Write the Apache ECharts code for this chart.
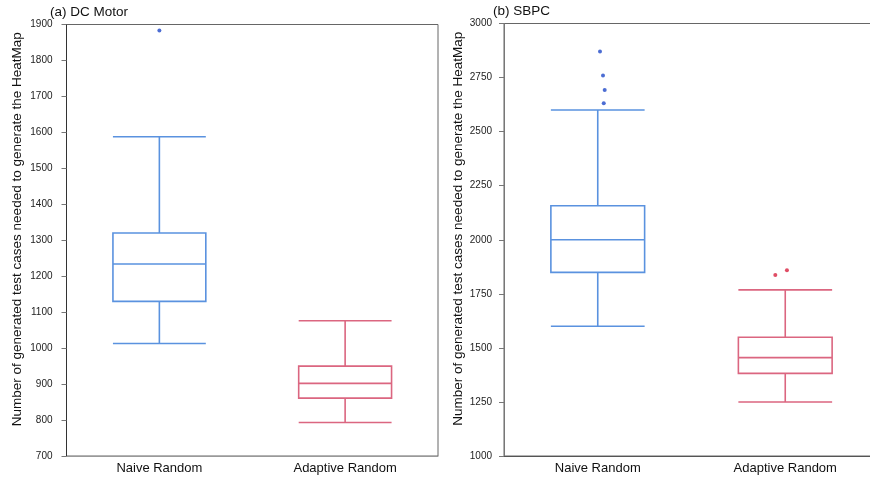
<!DOCTYPE html>
<html>
<head>
<meta charset="utf-8">
<script src="https://cdn.jsdelivr.net/npm/echarts@6/dist/echarts.min.js"></script>
<style>
  html, body { margin: 0; padding: 0; background: #fff; overflow: hidden; }
  #wrap { width: 870px; height: 480px; overflow: hidden; }
  /* canvas runs a little past the right edge so the second frame is cut off there */
  #chart { width: 880px; height: 480px; }
</style>
</head>
<body>
<div id="wrap"><div id="chart"></div></div>
<script>
// Categories shared by both panels
const categories = ['Naive Random', 'Adaptive Random'];

// Box statistics: [lower whisker, Q1, median, Q3, upper whisker]
const dcMotorBoxes = [
  [1013, 1130, 1234, 1320, 1588],
  [793, 861, 902, 950, 1076]
];
const sbpcBoxes = [
  [1600, 1849, 2000, 2157, 2600],
  [1250, 1382, 1455, 1549, 1768]
];

// Outlier values per category, with a small horizontal jitter (in category widths)
const dcMotorNaiveOutliers = [1883];
const dcMotorNaiveJitter = [0];
const sbpcNaiveOutliers = [2871, 2759, 2692, 2631];
const sbpcNaiveJitter = [0.012, 0.028, 0.037, 0.032];
const sbpcAdaptiveOutliers = [1837, 1859];
const sbpcAdaptiveJitter = [-0.053, 0.009];

// Axis ranges / ticks
const dcMotorAxis = { min: 700, max: 1900, interval: 100 };
const sbpcAxis = { min: 1000, max: 3000, interval: 250 };

const panelTitles = ['(a) DC Motor', '(b) SBPC'];
const yAxisTitle = 'Number of generated test cases needed to generate the HeatMap';

const BLUE = '#5a92df';
const RED = '#db6680';
const BLUE_DOT = '#1f48c8';
const RED_DOT = '#d8203f';
const FONT = 'Liberation Sans, Arial, Helvetica, sans-serif';

const chart = echarts.init(document.getElementById('chart'), null, { renderer: 'canvas' });

function catAxis(gridIndex, bottomColor) {
  return {
    type: 'category', gridIndex, data: categories,
    axisLine: { show: true, onZero: false, lineStyle: { color: bottomColor, width: 1 } },
    axisTick: { show: false },
    axisLabel: { color: '#111', fontSize: 13, fontFamily: FONT, margin: 6 },
    splitLine: { show: false }
  };
}
function jitterAxis(gridIndex) {
  return {
    type: 'value', gridIndex, min: -0.5, max: 1.5, show: false,
    axisLine: { show: false, onZero: false }, splitLine: { show: false }
  };
}
function valAxis(gridIndex, rng, gap, leftColor, margin) {
  return {
    type: 'value', gridIndex, min: rng.min, max: rng.max, interval: rng.interval,
    name: yAxisTitle, nameLocation: 'middle', nameRotate: 90, nameGap: gap,
    nameTextStyle: { color: '#111', fontSize: 13.5, fontFamily: FONT, padding: [0, 0, 0, 22] },
    axisLine: { show: true, onZero: false, lineStyle: { color: leftColor, width: 1 } },
    axisTick: { show: true, length: 5, lineStyle: { color: '#777' } },
    axisLabel: { color: '#222', fontSize: 10, fontFamily: FONT, margin: margin, formatter: v => String(v) },
    splitLine: { show: false }
  };
}
function boxSeries(xi, yi, data) {
  return {
    type: 'boxplot', xAxisIndex: xi, yAxisIndex: yi,
    boxWidth: ['50%', '50%'],
    data: data.map((d, i) => ({
      value: d,
      itemStyle: { color: '#fff', borderColor: i === 0 ? BLUE : RED, borderWidth: 1.6 }
    })),
    silent: true
  };
}
function dotSeries(xi, yi, catIndex, values, jitter, color) {
  return {
    type: 'scatter', xAxisIndex: xi, yAxisIndex: yi,
    data: values.map((v, i) => [catIndex + jitter[i], v]),
    symbol: 'circle', symbolSize: 4,
    itemStyle: { color: color }, silent: true, z: 5
  };
}

chart.setOption({
  animation: false,
  backgroundColor: '#fff',
  title: [
    { text: panelTitles[0], left: 45, top: 0, textStyle: { fontSize: 13.5, fontWeight: 'normal', color: '#111', fontFamily: FONT } },
    { text: panelTitles[1], left: 488, top: -1, textStyle: { fontSize: 13.5, fontWeight: 'normal', color: '#111', fontFamily: FONT } }
  ],
  grid: [
    { left: 66.5, width: 371.5, top: 24.5, bottom: 24, show: true, borderColor: '#666', borderWidth: 1, backgroundColor: '#fff' },
    { left: 504, width: 375, top: 23.5, bottom: 24, show: true, borderColor: '#666', borderWidth: 1, backgroundColor: '#fff' }
  ],
  xAxis: [
    catAxis(0, '#999'),
    catAxis(1, '#555'),
    jitterAxis(0),
    jitterAxis(1)
  ],
  yAxis: [
    valAxis(0, dcMotorAxis, 42, '#333', 14),
    valAxis(1, sbpcAxis, 39, '#777', 12)
  ],
  series: [
    boxSeries(0, 0, dcMotorBoxes),
    boxSeries(1, 1, sbpcBoxes),
    dotSeries(2, 0, 0, dcMotorNaiveOutliers, dcMotorNaiveJitter, BLUE_DOT),
    dotSeries(3, 1, 0, sbpcNaiveOutliers, sbpcNaiveJitter, BLUE_DOT),
    dotSeries(3, 1, 1, sbpcAdaptiveOutliers, sbpcAdaptiveJitter, RED_DOT)
  ]
});
</script>
</body>
</html>
